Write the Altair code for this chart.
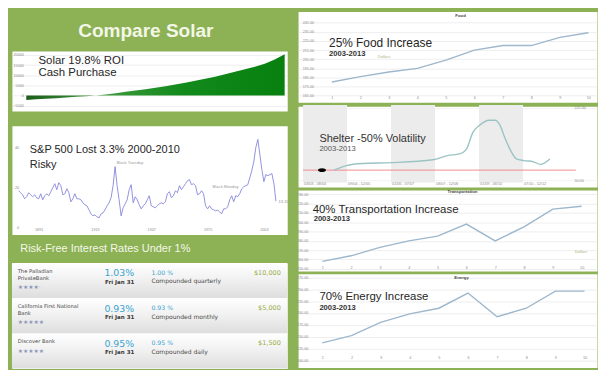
import altair as alt
import pandas as pd

# ------------------------------------------------------------------ data
TITLE = "Compare Solar"

SOLAR_TEXT = ["Solar 19.8% ROI", "Cash Purchase"]
SOLAR_YEARS = list(range(27))
SOLAR_VALUES = [-2200, -1900, -1600, -1300, -950, -650, -300, 0, 550, 1150,
                1800, 2450, 3100, 3800, 4600, 5400, 6300, 7300, 8300, 9300,
                10500, 11700, 12900, 14200, 15600, 17700, 20300]
SOLAR_TICKS = [-5000, 0, 5000, 10000, 15000, 20000]

SP_TEXT = ["S&P 500 Lost 3.3% 2000-2010", "Risky"]
SP_YEARS = list(range(1881, 2010))
SP_VALUES = [18.5, 17.5, 16.5, 14.5, 15.5, 17.5, 16.5, 15.5, 16.5, 15,
             14.5, 17, 14, 16, 17, 16, 18, 20, 22, 19,
             22.5, 21, 16.5, 17, 19.5, 17.5, 13, 14.5, 17, 14.5,
             14.5, 14, 12.5, 11.5, 11, 9, 7, 6, 6.5, 5.5,
             5, 7, 7.5, 9, 11, 12.5, 15, 21, 30.5, 21,
             14, 6, 10, 12, 14, 19, 21.5, 12.5, 15.5, 14,
             11.5, 9.5, 11, 12, 14, 16, 11, 10.5, 10, 11,
             12, 12.5, 12, 13, 17, 18, 15, 16, 18.5, 17.5,
             21, 19, 20.5, 22, 23.5, 24, 21.5, 22, 21, 16.5,
             17, 18.5, 17, 11, 9.5, 11, 9.5, 9, 8.5, 8.8,
             8, 7, 9.5, 9.5, 10.5, 14, 16, 13, 16, 15.5,
             17, 19.5, 20.5, 21, 21.5, 25, 28.5, 33, 40, 44,
             36.5, 29, 23, 26.5, 26, 26.5, 27, 22, 13.3]
SP_TICKS_X = [1891, 1905, 1919, 1933, 1947, 1961, 1975, 1989, 2003]
SP_TICKS_Y = [0, 5, 10, 15, 20, 25, 30, 35, 40, 45]
SP_NOTES = ["Black Tuesday", "Black Monday", "13.32"]
SP_NOTE_X = [1929.7, 1977.5, 2010.3]
SP_NOTE_Y = [32.1, 20.4, 12.8]

BAND_TEXT = "Risk-Free Interest Rates Under 1%"

BANK_ROWS = ["r1", "r2", "r3"]
BANK_NAME1 = ["The Palladian", "California First National", "Discover Bank"]
BANK_NAME2 = ["PrivateBank", "Bank", ""]
BANK_LINES = [2, 2, 1]
BANK_STARS = ["★★★★·", "★★★★★", "★★★★★"]
BANK_APY = ["1.03%", "0.93%", "0.95%"]
BANK_DATE = ["Fri Jan 31", "Fri Jan 31", "Fri Jan 31"]
BANK_RATE = ["1.00 %", "0.93 %", "0.95 %"]
BANK_COMPOUND = ["Compounded quarterly", "Compounded monthly", "Compounded daily"]
BANK_MIN = ["$10,000", "$5,000", "$1,500"]

PERIODS = [1, 2, 3, 4, 5, 6, 7, 8, 9, 10]

FOOD_TEXT = ["25% Food Increase", "2003-2013", "Food", "Dollars"]
FOOD_VALUES = [180, 186, 191, 195, 204, 215, 220, 220, 229, 234]
FOOD_TICKS = [165, 175, 185, 195, 205, 215, 225, 235, 245]

SHELTER_TEXT = ["Shelter -50% Volatility", "2003-2013"]
SHELTER_X = [0.70, 0.98, 1.35, 2.01, 2.95, 3.28, 3.56, 3.71, 3.86, 4.00, 4.10,
             4.21, 4.37, 4.48, 4.59, 4.74, 4.85, 5.02, 5.24, 5.39, 5.61]
SHELTER_Y = [75, 86, 91, 93, 100, 110, 114, 125, 166, 182, 190,
             195, 195, 182, 152, 118, 102, 98, 95, 89, 102]
SHELTER_TICKS = [50, 75, 100, 125, 150, 175, 200, 225]
SHELTER_BAND_START = [0, 2, 4]
SHELTER_BAND_END = [1, 3, 5]
SHELTER_BAND_Y = [45, 232]
SHELTER_SEG = [0, 1, 2, 3, 4, 5]
SHELTER_SEG_LABELS = ["03/03 - 08/04", "09/04 - 12/05", "01/06 - 07/07",
                      "08/07 - 12/08", "01/09 - 06/10", "07/10 - 12/12"]
SHELTER_RED = [75]
SHELTER_RED_X = [0, 6.2]
SHELTER_MARK = [0.43, 75]

TRANS_TEXT = ["40% Transportation Increase", "2003-2013", "Transportation", "Dollars"]
TRANS_VALUES = [158, 164, 173, 180, 185, 198, 180, 195, 214, 217]
TRANS_TICKS = [150, 160, 170, 180, 190, 200, 210, 220, 230]

ENERGY_TEXT = ["70% Energy Increase", "2003-2013", "Energy"]
ENERGY_VALUES = [137, 152, 180, 198, 210, 242, 192, 210, 246, 246]
ENERGY_TICKS = [100, 125, 150, 175, 200, 225, 250, 275]

# ------------------------------------------------------------------ layout / style
SX = 590 / 606
SY = 354 / 370
FK = 0.965
SANS = "Liberation Sans"
WIDE = "DejaVu Sans"
GREEN = "#8db155"
INK = "#262626"
AX = "#8c8c8c"
GRID = "#e6e6e6"
LBL = 3.8

LW, RW = 279, 303
TITLE_H, SOLAR_H, GAP, SP_H, BAND_H, TABLE_H = 38, 61, 13, 110, 25, 107
FOOD_H, SHEL_H, TRANS_H, EN_H = 92, 82, 82, 95

L_X0 = 3 / SX
R_X0 = (3 + LW + 5) / SX
SOLAR_Y0 = TITLE_H / SY
SP_Y0 = (TITLE_H + SOLAR_H + GAP) / SY
BAND_Y0 = SP_Y0 + SP_H / SY
TABLE_Y0 = BAND_Y0 + BAND_H / SY
FOOD_Y0 = 0
SHEL_Y0 = (FOOD_H + 1) / SY
TRANS_Y0 = (FOOD_H + SHEL_H + 2) / SY
EN_Y0 = (FOOD_H + SHEL_H + TRANS_H + 3) / SY


def fx(rx, x0):
    return round((rx - x0) * SX, 1)


def fy(ry, y0):
    return round((ry - y0) * SY, 1)


def lin(p0, v0, p1, v1, a, b):
    k = (v1 - v0) / (p1 - p0)
    return [round(v0 + (a - p0) * k, 3), round(v0 + (b - p0) * k, 3)]


def xdom(p0, v0, p1, v1, x0, w):
    return lin(p0, v0, p1, v1, x0, x0 + w / SX)


def ydom(p0, v0, p1, v1, y0, h):
    return lin(p0, v0, p1, v1, y0 + h / SY, y0)


def left_off(rx, x0):
    return -(fx(rx, x0) + 1)


def right_off(rx, x0, w):
    return -(w - fx(rx, x0) + 1)


def bottom_off(ry, y0, h):
    return -(h - fy(ry, y0) + 3)


def label(text, x, y, size, color=INK, weight="normal", align="left", font=SANS):
    return alt.Chart(alt.Data(values=[{"t": text}])).mark_text(
        align=align, baseline="middle", fontSize=round(size * FK, 2), font=font,
        fontWeight=weight, color=color
    ).encode(x=alt.value(x), y=alt.value(y), text="t:N")


def yaxis(values, offset, fmt, orient="left", grid=True, gridcolor=GRID):
    return alt.Axis(orient=orient, values=values, offset=offset, format=fmt, grid=grid,
                    gridColor=gridcolor, gridWidth=0.7, title=None, labelFontSize=LBL,
                    labelColor=AX, labelFont=SANS, domain=False, ticks=False, tickSize=0,
                    labelPadding=1, labelOverlap=False, labelBound=False, labelFlush=False)


def xaxis(values, offset, fmt):
    return alt.Axis(orient="bottom", values=values, offset=offset, format=fmt, grid=False,
                    title=None, labelFontSize=LBL, labelColor=AX, labelFont=SANS,
                    domain=False, ticks=False, tickSize=0, labelPadding=1,
                    labelOverlap=False, labelBound=False, labelFlush=False)


def panel(layers, w, h, fill="white"):
    return alt.layer(*layers).properties(
        width=w, height=h, view=alt.ViewBackground(fill=fill, stroke="transparent"))


# ------------------------------------------------------------------ title
title = panel([label(TITLE, fx(142.5, L_X0), fy(20.7, 0), 20, color="#f2f7e6",
                     weight="bold", align="center")], LW, TITLE_H, fill=GREEN)

# ------------------------------------------------------------------ solar
solar_df = pd.DataFrame({"year": SOLAR_YEARS, "value": SOLAR_VALUES})
sx_s = alt.Scale(domain=xdom(18, 0, 287, 26, L_X0, LW), nice=False, zero=False)
sy_s = alt.Scale(domain=ydom(87, 0, 44, 20000, SOLAR_Y0, SOLAR_H), nice=False, zero=False)
solar_grad = alt.LinearGradient(
    gradient="linear", x1=0, x2=1, y1=0, y2=0,
    stops=[alt.GradientStop(color="#1d5e1d", offset=0),
           alt.GradientStop(color="#3d9a3d", offset=0.3),
           alt.GradientStop(color="#138a1c", offset=0.6),
           alt.GradientStop(color="#07800f", offset=1)])
solar_area = alt.Chart(solar_df).mark_area(color=solar_grad).encode(
    x=alt.X("year:Q", scale=sx_s, axis=None),
    y=alt.Y("value:Q", scale=sy_s,
            axis=yaxis(SOLAR_TICKS, left_off(15, L_X0), "d")),
    y2=alt.datum(0),
)
solar = panel([
    solar_area,
    label(SOLAR_TEXT[0], fx(30.7, L_X0), fy(50, SOLAR_Y0), 12),
    label(SOLAR_TEXT[1], fx(30.7, L_X0), fy(63, SOLAR_Y0), 12),
], LW, SOLAR_H)

# ------------------------------------------------------------------ S&P
sp_df = pd.DataFrame({"year": SP_YEARS, "pe": SP_VALUES})
sp_x = alt.Scale(domain=xdom(10, 1881, 280, 2010, L_X0, LW), nice=False, zero=False)
sp_y = alt.Scale(domain=ydom(225.2, 0, 129.3, 45, SP_Y0, SP_H), nice=False, zero=False)
sp_line = alt.Chart(sp_df).mark_line(color="#8585dc", strokeWidth=0.9).encode(
    x=alt.X("year:Q", scale=sp_x, axis=xaxis(SP_TICKS_X, bottom_off(227, SP_Y0, SP_H), "d")),
    y=alt.Y("pe:Q", scale=sp_y, axis=yaxis(SP_TICKS_Y, left_off(10, L_X0), "d", grid=False)),
)
sp_notes = alt.Chart(pd.DataFrame({"x": SP_NOTE_X, "y": SP_NOTE_Y, "t": SP_NOTES})).mark_text(
    align="left", baseline="middle", fontSize=4.2, font=SANS, color="#999999"
).encode(x=alt.X("x:Q", scale=sp_x), y=alt.Y("y:Q", scale=sp_y), text="t:N")
sp = panel([
    sp_line, sp_notes,
    label(SP_TEXT[0], fx(21.7, L_X0), fy(143, SP_Y0), 11.5),
    label(SP_TEXT[1], fx(21.7, L_X0), fy(158, SP_Y0), 11.5),
], LW, SP_H)

# ------------------------------------------------------------------ band title
band = panel([label(BAND_TEXT, fx(11.7, L_X0), fy(245, BAND_Y0), 11.5, color="#f3f8e8")],
             LW, BAND_H, fill=GREEN)

# ------------------------------------------------------------------ table
bank_df = pd.DataFrame({
    "row": BANK_ROWS, "n1": BANK_NAME1, "n2": BANK_NAME2, "lines": BANK_LINES,
    "stars": BANK_STARS, "apy": BANK_APY, "date": BANK_DATE, "rate": BANK_RATE,
    "comp": BANK_COMPOUND, "min": BANK_MIN,
})
row_scale = alt.Scale(domain=BANK_ROWS, paddingInner=0, paddingOuter=0)
row_grad = alt.LinearGradient(
    gradient="linear", x1=0, x2=0, y1=0, y2=1,
    stops=[alt.GradientStop(color="#ffffff", offset=0),
           alt.GradientStop(color="#f0f0f0", offset=0.5),
           alt.GradientStop(color="#dddddd", offset=1)])
rows_bg = alt.Chart(bank_df).mark_rect(color=row_grad).encode(
    y=alt.Y("row:N", scale=row_scale, axis=None),
    x=alt.value(0), x2=alt.value(LW),
)


def cell(field, x, dy, size, color, align="left", weight="normal", lines=None):
    base = alt.Chart(bank_df)
    if lines is not None:
        base = base.transform_filter(alt.datum.lines == lines)
    return base.mark_text(
        align=align, baseline="middle", dy=dy, fontSize=size, font=WIDE,
        fontWeight=weight, color=color
    ).encode(
        y=alt.Y("row:N", scale=row_scale, axis=None, bandPosition=0),
        x=alt.value(x), text=f"{field}:N",
    )


TXN = fx(9, L_X0)
TXR = fx(99.3, L_X0)
TXD = fx(100, L_X0)
TXA = fx(148.3, L_X0)
TXM = fx(283, L_X0)
table = panel([
    rows_bg,
    cell("n1", TXN, 8.0, 5.3, "#4a4a4a"),
    cell("n2", TXN, 15.0, 5.3, "#4a4a4a"),
    cell("stars", TXN, 24.0, 6, "#8a96b8", lines=2),
    cell("stars", TXN, 17.5, 6, "#8a96b8", lines=1),
    cell("apy", TXR, 10.5, 9.5, "#3ba3d0"),
    cell("date", TXD, 19.0, 5.6, "#3a3a3a", weight="bold"),
    cell("rate", TXA, 9.8, 6.3, "#3ba3d0"),
    cell("comp", TXA, 18.6, 6.1, "#4a4a4a"),
    cell("min", TXM, 9.8, 6.6, "#9aae48", align="right"),
], LW, TABLE_H)

# ------------------------------------------------------------------ right column helpers
LINE_BLUE = "#9db7cd"


def cpi_panel(values, ticks, xd, yd, y0, h, ylab_rx, xlab_ry, texts):
    df = pd.DataFrame({"p": PERIODS, "v": values})
    xs = alt.Scale(domain=xd, nice=False, zero=False)
    ys = alt.Scale(domain=yd, nice=False, zero=False)
    line = alt.Chart(df).mark_line(color=LINE_BLUE, strokeWidth=1.4).encode(
        x=alt.X("p:Q", scale=xs, axis=xaxis(PERIODS, bottom_off(xlab_ry, y0, h), "d")),
        y=alt.Y("v:Q", scale=ys, axis=yaxis(ticks, left_off(ylab_rx, R_X0), ".2f")),
    )
    return panel([line] + texts, RW, h)


food = cpi_panel(
    FOOD_VALUES, FOOD_TICKS,
    xdom(330, 1, 597, 10, R_X0, RW), ydom(89.3, 165, 12, 245, FOOD_Y0, FOOD_H),
    FOOD_Y0, FOOD_H, 311, 91,
    [label(FOOD_TEXT[0], fx(327, R_X0), fy(33, FOOD_Y0), 12.5),
     label(FOOD_TEXT[1], fx(327, R_X0), fy(45, FOOD_Y0), 8, weight="bold", color="#333"),
     label(FOOD_TEXT[2], fx(464, R_X0), fy(5, FOOD_Y0), 4.5, weight="bold", color="#444",
           align="center"),
     label(FOOD_TEXT[3], fx(378, R_X0), fy(48, FOOD_Y0), 4.2, color="#a9b97a")],
)

# shelter
sh_xs = alt.Scale(domain=xdom(300, 0, 574.8, 6, R_X0, RW), nice=False, zero=False)
sh_ys = alt.Scale(domain=ydom(176, 50, 99, 225, SHEL_Y0, SHEL_H), nice=False, zero=False)
sh_bands = alt.Chart(pd.DataFrame({"s": SHELTER_BAND_START, "e": SHELTER_BAND_END})).mark_rect(
    color="#ececec").encode(
    x=alt.X("s:Q", scale=sh_xs, axis=None), x2="e:Q",
    y=alt.datum(SHELTER_BAND_Y[0]), y2=alt.datum(SHELTER_BAND_Y[1]),
)
sh_axis_holder = alt.Chart(pd.DataFrame({"v": SHELTER_TICKS})).mark_point(opacity=0).encode(
    y=alt.Y("v:Q", scale=sh_ys,
            axis=yaxis(SHELTER_TICKS, right_off(582, R_X0, RW), ".2f", orient="right",
                       gridcolor="#f1eded")),
)
sh_red = alt.Chart(pd.DataFrame({"y": SHELTER_RED, "x": [SHELTER_RED_X[0]],
                                 "x2": [SHELTER_RED_X[1]]})).mark_rule(
    color="#ef8a8a", strokeWidth=1).encode(
    y=alt.Y("y:Q", scale=sh_ys), x=alt.X("x:Q", scale=sh_xs), x2="x2:Q")
sh_line = alt.Chart(pd.DataFrame({"x": SHELTER_X, "y": SHELTER_Y})).mark_line(
    color="#9cc3c3", strokeWidth=1.4, interpolate="monotone").encode(
    x=alt.X("x:Q", scale=sh_xs), y=alt.Y("y:Q", scale=sh_ys))
sh_mark = alt.Chart(pd.DataFrame({"x": [SHELTER_MARK[0]], "y": [SHELTER_MARK[1]]})).mark_point(
    shape="M-1,0A1,0.45 0 1,0 1,0A1,0.45 0 1,0 -1,0Z", filled=True, color="black",
    opacity=1, size=64).encode(x=alt.X("x:Q", scale=sh_xs), y=alt.Y("y:Q", scale=sh_ys))
sh_seg = alt.Chart(pd.DataFrame({"x": SHELTER_SEG, "t": SHELTER_SEG_LABELS})).mark_text(
    align="left", baseline="middle", fontSize=LBL, font=SANS, color=AX, dx=1).encode(
    x=alt.X("x:Q", scale=sh_xs), y=alt.value(fy(180, SHEL_Y0)), text="t:N")
shelter = panel([
    sh_bands, sh_axis_holder, sh_red, sh_line, sh_mark, sh_seg,
    label(SHELTER_TEXT[0], fx(317, R_X0), fy(132, SHEL_Y0), 11.5, color="#333"),
    label(SHELTER_TEXT[1], fx(317, R_X0), fy(143, SHEL_Y0), 8, color="#555"),
], RW, SHEL_H)

trans = cpi_panel(
    TRANS_VALUES, TRANS_TICKS,
    xdom(320, 1, 590, 10, R_X0, RW), ydom(260, 157.6, 201, 217.2, TRANS_Y0, TRANS_H),
    TRANS_Y0, TRANS_H, 305, 266,
    [label(TRANS_TEXT[0], fx(310, R_X0), fy(205, TRANS_Y0), 12),
     label(TRANS_TEXT[1], fx(311, R_X0), fy(215, TRANS_Y0), 8, weight="bold", color="#333"),
     label(TRANS_TEXT[2], fx(466, R_X0), fy(186.5, TRANS_Y0), 4.5, weight="bold",
           color="#444", align="center"),
     label(TRANS_TEXT[3], fx(583, R_X0), fy(250, TRANS_Y0), 4.2, color="#a9b97a")],
)

energy = cpi_panel(
    ENERGY_VALUES, ENERGY_TICKS,
    xdom(320, 1, 593, 10, R_X0, RW), ydom(344, 136.5, 289, 246.1, EN_Y0, EN_H),
    EN_Y0, EN_H, 305, 359,
    [label(ENERGY_TEXT[0], fx(317, R_X0), fy(295, EN_Y0), 12),
     label(ENERGY_TEXT[1], fx(317, R_X0), fy(307, EN_Y0), 8, weight="bold", color="#333"),
     label(ENERGY_TEXT[2], fx(465, R_X0), fy(275, EN_Y0), 4.5, weight="bold", color="#444",
           align="center")],
)

# ------------------------------------------------------------------ assemble
ind = dict(x="independent", y="independent")
left = alt.vconcat(
    alt.vconcat(title, solar, spacing=0).resolve_scale(**ind),
    alt.vconcat(sp, band, table, spacing=0).resolve_scale(**ind),
    spacing=GAP,
).resolve_scale(**ind)
right = alt.vconcat(food, shelter, trans, energy, spacing=1).resolve_scale(**ind)

chart = alt.hconcat(left, right, spacing=5).resolve_scale(**ind).properties(
    background=GREEN,
    padding={"left": 3, "top": 0, "right": 0, "bottom": 0},
).configure_view(stroke="transparent")

chart.save("out.html", embed_options={"renderer": "svg", "actions": False})
